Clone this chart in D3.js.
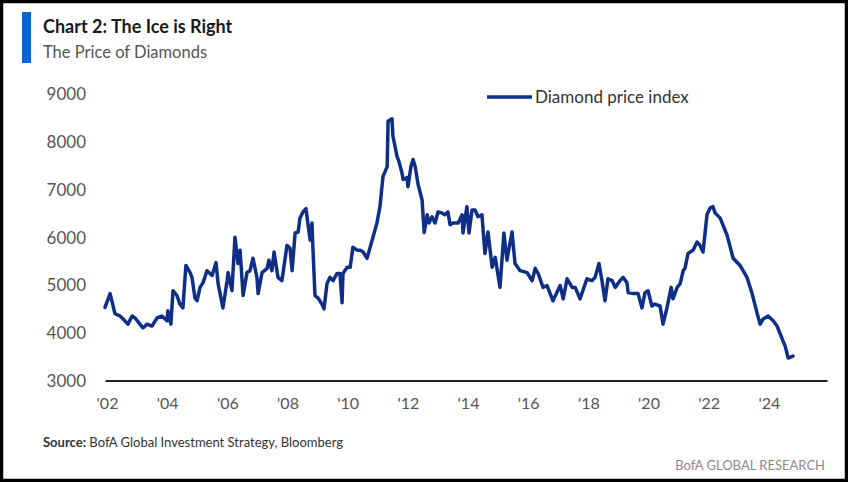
<!DOCTYPE html>
<html><head><meta charset="utf-8">
<script src="https://cdn.jsdelivr.net/npm/d3@7"></script>
<style>
html,body{margin:0;padding:0;background:#fff;}
svg{display:block;}
</style></head>
<body>
<svg id="chart" width="848" height="482"></svg>
<script>
// ---- data (decimal years, index values) ----
const years = [2002.00,2002.17,2002.33,2002.50,2002.66,2002.76,2002.90,2003.00,2003.16,2003.26,2003.40,2003.56,2003.73,2003.89,2004.06,2004.09,2004.19,2004.26,2004.39,2004.49,2004.59,2004.69,2004.83,2004.89,2004.99,2005.06,2005.16,2005.26,2005.39,2005.56,2005.69,2005.76,2005.92,2006.06,2006.09,2006.22,2006.32,2006.42,2006.49,2006.59,2006.72,2006.82,2006.92,2007.05,2007.09,2007.22,2007.39,2007.45,2007.55,2007.62,2007.75,2007.88,2008.05,2008.15,2008.22,2008.32,2008.42,2008.48,2008.58,2008.68,2008.75,2008.82,2008.88,2008.91,2008.98,2009.08,2009.21,2009.28,2009.38,2009.48,2009.58,2009.71,2009.81,2009.88,2009.91,2010.05,2010.15,2010.24,2010.38,2010.48,2010.58,2010.71,2010.88,2011.04,2011.14,2011.24,2011.38,2011.41,2011.54,2011.57,2011.71,2011.77,2011.87,2011.91,2012.04,2012.07,2012.17,2012.24,2012.31,2012.41,2012.54,2012.61,2012.71,2012.77,2012.87,2012.97,2013.07,2013.20,2013.30,2013.40,2013.47,2013.57,2013.74,2013.87,2013.90,2014.03,2014.10,2014.20,2014.30,2014.40,2014.53,2014.63,2014.73,2014.87,2014.97,2015.13,2015.26,2015.36,2015.53,2015.63,2015.80,2016.03,2016.20,2016.30,2016.40,2016.56,2016.69,2016.89,2017.13,2017.23,2017.36,2017.53,2017.63,2017.79,2018.02,2018.19,2018.29,2018.42,2018.52,2018.62,2018.72,2018.86,2018.96,2019.12,2019.22,2019.35,2019.39,2019.55,2019.72,2019.85,2019.95,2020.05,2020.18,2020.28,2020.45,2020.55,2020.68,2020.82,2020.88,2021.02,2021.12,2021.22,2021.28,2021.38,2021.55,2021.68,2021.78,2021.88,2022.01,2022.11,2022.21,2022.28,2022.45,2022.68,2022.88,2023.11,2023.34,2023.51,2023.68,2023.78,2023.88,2024.04,2024.21,2024.34,2024.51,2024.61,2024.71,2024.87];
const values = [4530,4820,4400,4350,4250,4180,4350,4310,4180,4100,4180,4140,4310,4350,4250,4460,4180,4880,4780,4600,4520,5410,5260,5160,4730,4670,4950,5050,5300,5200,5470,5030,4520,5090,5260,4880,6000,5450,5730,4780,5260,5300,5560,5160,4820,5260,5350,5520,5300,5690,5160,5090,5830,5770,5300,6090,6110,6400,6530,6600,6260,5940,6300,5790,4780,4730,4600,4500,5030,5160,5090,5240,5240,4630,5240,5370,5370,5790,5730,5730,5690,5560,5940,6300,6640,7270,7480,8430,8480,8120,7690,7590,7350,7210,7250,7060,7480,7630,7480,7100,6780,6100,6470,6300,6430,6300,6530,6510,6470,6530,6260,6300,6300,6470,6090,6640,6090,6570,6570,6430,6470,5660,6110,5370,5580,4950,6090,5520,6110,5450,5300,5260,5090,5350,5240,4950,4990,4670,4990,4710,5130,4950,4950,4710,5130,5090,5160,5450,5090,4670,5130,5090,4950,5090,5160,5050,4840,4820,4820,4520,4840,4880,4560,4600,4560,4180,4520,4950,4710,4950,5030,5300,5350,5660,5730,5900,5830,5690,6470,6610,6640,6510,6400,6040,5560,5410,5160,4820,4400,4180,4290,4350,4250,4140,3870,3720,3470,3510];
const yTicks = [3000,4000,5000,6000,7000,8000,9000];
const xTicks = [2002,2004,2006,2008,2010,2012,2014,2016,2018,2020,2022,2024];
const xTickLabels = ["'02","'04","'06","'08","'10","'12","'14","'16","'18","'20","'22","'24"];
const seriesName = "Diamond price index";
const titleText = "Chart 2: The Ice is Right";
const subtitleText = "The Price of Diamonds";
const sourceBold = "Source:";
const sourceText = " BofA Global Investment Strategy, Bloomberg";
const brandText = "BofA GLOBAL RESEARCH";

const svg = d3.select("#chart");
const W = 848, H = 482;
const FONT = "Lato, 'Noto Sans', sans-serif";

// frame
svg.append("rect").attr("x",1.5).attr("y",1.5).attr("width",W-3).attr("height",H-3)
  .attr("fill","#fff").attr("stroke","#000").attr("stroke-width",3.5);

// title block
svg.append("rect").attr("x",22).attr("y",12).attr("width",9).attr("height",51).attr("fill","#0a63d2");
svg.append("text").attr("x",43).attr("y",33).attr("font-family",FONT).attr("font-weight",700)
  .attr("font-size",18).attr("fill","#1a1a1a").text(titleText);
svg.append("text").attr("x",43).attr("y",58).attr("font-family",FONT).attr("font-weight",400)
  .attr("font-size",16.5).attr("fill","#555").text(subtitleText);

// scales
const x = d3.scaleLinear().domain([2002, 2026]).range([105, 827]);
const y = d3.scaleLinear().domain([3000, 9000]).range([380.5, 94]);

// y axis labels
const yAxis = d3.axisLeft(y).tickValues(yTicks).tickSize(0).tickPadding(0).tickFormat(d3.format("d"));
const gy = svg.append("g").attr("transform","translate(86,0)").call(yAxis);
gy.select(".domain").remove();
gy.selectAll("text").attr("font-family",FONT).attr("font-size",17).attr("fill","#555").attr("dy","0.35em");

// x axis
const xAxis = d3.axisBottom(x).tickValues(xTicks).tickSize(0).tickPadding(17)
  .tickFormat((d,i)=>xTickLabels[i]);
const gx = svg.append("g").attr("transform",`translate(0,${y(3000)})`).call(xAxis);
gx.select(".domain").attr("stroke","#222").attr("stroke-width",2);
gx.selectAll("text").attr("font-family",FONT).attr("font-size",16).attr("fill","#555")
  .attr("dx","2");

// line
const line = d3.line().x((d,i)=>x(years[i])).y(d=>y(d)).curve(d3.curveLinear);
svg.append("path").datum(values).attr("d",line).attr("fill","none")
  .attr("stroke","#0f2e86").attr("stroke-width",3.5).attr("stroke-linejoin","round").attr("stroke-linecap","round");

// legend
svg.append("line").attr("x1",487).attr("x2",532).attr("y1",97).attr("y2",97)
  .attr("stroke","#0f2e86").attr("stroke-width",3.5);
svg.append("text").attr("x",535).attr("y",97).attr("dy","0.35em").attr("font-family",FONT)
  .attr("font-size",17).attr("fill","#333").text(seriesName);

// source
const src = svg.append("text").attr("x",43).attr("y",447).attr("font-family",FONT).attr("font-size",13).attr("fill","#333");
src.append("tspan").attr("font-weight",700).text(sourceBold);
src.append("tspan").text(sourceText);
svg.append("text").attr("x",825).attr("y",470).attr("text-anchor","end").attr("font-family",FONT)
  .attr("font-size",13).attr("fill","#8a8a8a").text(brandText);
</script>
</body></html>
